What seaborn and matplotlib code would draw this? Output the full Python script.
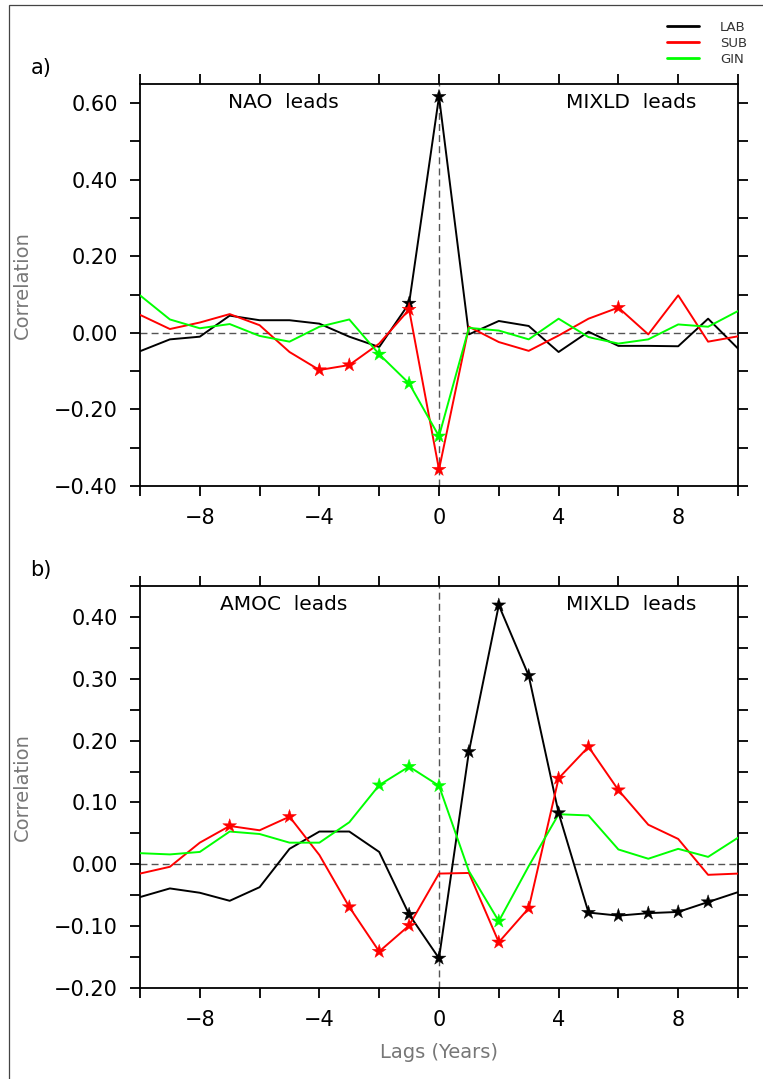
import numpy as np
import pandas as pd
import matplotlib
matplotlib.use("Agg")
import matplotlib.pyplot as plt
from matplotlib.patches import Rectangle
from matplotlib.ticker import MultipleLocator, FuncFormatter
import seaborn as sns

# ---------------- data ----------------
lags = list(range(-10, 11))
regions = ["LAB", "SUB", "GIN"]
colors = {"LAB": "#000000", "SUB": "#ff0000", "GIN": "#00ff00"}

# panel a: NAO vs MIXLD
lab_a = [-0.048, -0.017, -0.010, 0.045, 0.033, 0.033, 0.024, -0.010, -0.037, 0.077, 0.617,
         -0.004, 0.031, 0.018, -0.050, 0.003, -0.034, -0.034, -0.035, 0.037, -0.041]
sub_a = [0.047, 0.010, 0.027, 0.049, 0.020, -0.050, -0.097, -0.084, -0.028, 0.061, -0.357,
         0.016, -0.024, -0.047, -0.007, 0.037, 0.066, -0.004, 0.098, -0.023, -0.009]
gin_a = [0.098, 0.035, 0.012, 0.023, -0.008, -0.023, 0.016, 0.035, -0.056, -0.132, -0.270,
         0.013, 0.006, -0.017, 0.037, -0.011, -0.028, -0.017, 0.022, 0.016, 0.057]
sig_lab_a = [-1, 0]
sig_sub_a = [-4, -3, -1, 0, 6]
sig_gin_a = [-2, -1, 0]

# panel b: AMOC vs MIXLD
lab_b = [-0.053, -0.039, -0.046, -0.059, -0.037, 0.025, 0.053, 0.053, 0.020, -0.081, -0.152,
         0.182, 0.419, 0.305, 0.083, -0.078, -0.083, -0.079, -0.077, -0.061, -0.045]
sub_b = [-0.015, -0.004, 0.035, 0.062, 0.055, 0.077, 0.015, -0.069, -0.141, -0.099, -0.015,
         -0.014, -0.126, -0.071, 0.139, 0.190, 0.120, 0.064, 0.041, -0.017, -0.015]
gin_b = [0.018, 0.016, 0.020, 0.053, 0.049, 0.035, 0.035, 0.068, 0.128, 0.158, 0.127,
         -0.011, -0.092, -0.003, 0.081, 0.079, 0.024, 0.009, 0.025, 0.012, 0.043]
sig_lab_b = [-1, 0, 1, 2, 3, 4, 5, 6, 7, 8, 9]
sig_sub_b = [-7, -5, -3, -2, -1, 2, 3, 4, 5, 6]
sig_gin_b = [-2, -1, 0, 2]

panel_labels = ["a)", "b)"]
lead_left = ["NAO  leads", "AMOC  leads"]
lead_right = ["MIXLD  leads", "MIXLD  leads"]
ylims = [(-0.40, 0.65), (-0.20, 0.45)]
ymajor = [0.20, 0.10]
yminor = [0.10, 0.05]


def build(lab, sub, gin, slab, ssub, sgin):
    df = pd.DataFrame({
        "lag": lags * 3,
        "corr": lab + sub + gin,
        "region": ["LAB"] * 21 + ["SUB"] * 21 + ["GIN"] * 21,
    })
    sig = {"LAB": slab, "SUB": ssub, "GIN": sgin}
    df["sig"] = [l in sig[r] for l, r in zip(df["lag"], df["region"])]
    return df


dfs = [build(lab_a, sub_a, gin_a, sig_lab_a, sig_sub_a, sig_gin_a),
       build(lab_b, sub_b, gin_b, sig_lab_b, sig_sub_b, sig_gin_b)]


def yfmt(v, pos):
    s = f"{v:.2f}"
    if s in ("-0.00",):
        s = "0.00"
    return s.replace("-", "\u2212")


def xfmt(v, pos):
    return f"{int(round(v))}".replace("-", "\u2212")


# ---------------- style ----------------
sns.set_theme(style="ticks")
plt.rcParams["font.family"] = ["DejaVu Sans"]
plt.rcParams["text.color"] = "black"
plt.rcParams["axes.linewidth"] = 1.3

W, H = 763, 1079
fig = plt.figure(figsize=(W / 100, H / 100), dpi=100)

# outer frame
fig.add_artist(Rectangle((9 / W, -0.1), 1.2, (1 - 5 / H) + 0.1, transform=fig.transFigure,
                         fill=False, edgecolor="#444444", lw=0.9))

axes_px = [(140, 84, 738, 486), (140, 586, 738, 988)]
axs = []
for (l, t, r, b) in axes_px:
    axs.append(fig.add_axes([l / W, 1 - b / H, (r - l) / W, (b - t) / H]))

for i, ax in enumerate(axs):
    df = dfs[i]
    ax.axhline(0, color="#555555", lw=1.0, dashes=(5, 3), zorder=1)
    ax.axvline(0, color="#555555", lw=1.0, dashes=(5, 3), zorder=1)
    sns.lineplot(data=df, x="lag", y="corr", hue="region", hue_order=regions,
                 palette=colors, lw=1.4, ax=ax, legend=(i == 0), zorder=3)
    sns.scatterplot(data=df[df["sig"]], x="lag", y="corr", hue="region", hue_order=regions,
                    palette=colors, marker="*", s=110, linewidth=0.3, edgecolor="face",
                    ax=ax, legend=False, zorder=4)
    ax.set_xlim(-10, 10)
    ax.set_ylim(*ylims[i])
    ax.xaxis.set_major_locator(MultipleLocator(4))
    ax.xaxis.set_minor_locator(MultipleLocator(2))
    ax.yaxis.set_major_locator(MultipleLocator(ymajor[i]))
    ax.yaxis.set_minor_locator(MultipleLocator(yminor[i]))
    ax.yaxis.set_major_formatter(FuncFormatter(yfmt))
    ax.xaxis.set_major_formatter(FuncFormatter(xfmt))
    ax.tick_params(which="both", direction="out", length=7, width=1.3,
                   top=True, right=True, labelsize=15, colors="black")
    ax.tick_params(axis="y", which="major", pad=9)
    ax.tick_params(axis="x", which="major", pad=9)
    ax.set_ylabel("Correlation", fontsize=14, color="#777777")
    ax.yaxis.set_label_coords(-0.180, 0.5)
    ax.set_xlabel("")
    for sp in ax.spines.values():
        sp.set_visible(True)
        sp.set_linewidth(1.3)
        sp.set_color("black")
    ax.text(0.24, 0.955, lead_left[i], transform=ax.transAxes, ha="center", va="center",
            fontsize=14.5, color="black")
    ax.text(0.822, 0.955, lead_right[i], transform=ax.transAxes, ha="center", va="center",
            fontsize=14.5, color="black")
    ax.text(-0.183, 1.04, panel_labels[i], transform=ax.transAxes, ha="left", va="center",
            fontsize=15, color="black")

axs[1].set_xlabel("Lags (Years)", fontsize=14, color="#777777")
axs[1].xaxis.set_label_coords(0.5, -0.137)

handles, labels = axs[0].get_legend_handles_labels()
if axs[0].get_legend() is not None:
    axs[0].get_legend().remove()
for h in handles:
    h.set_linewidth(2.0)
leg = fig.legend(handles, labels, loc="upper left", bbox_to_anchor=(667 / W, 1 - 21 / H),
                 frameon=False, fontsize=9.5, handlelength=2.4, handletextpad=1.6,
                 labelspacing=0.22, borderpad=0, borderaxespad=0)
for t in leg.get_texts():
    t.set_color("#333333")

fig.savefig("out.png", dpi=100)
